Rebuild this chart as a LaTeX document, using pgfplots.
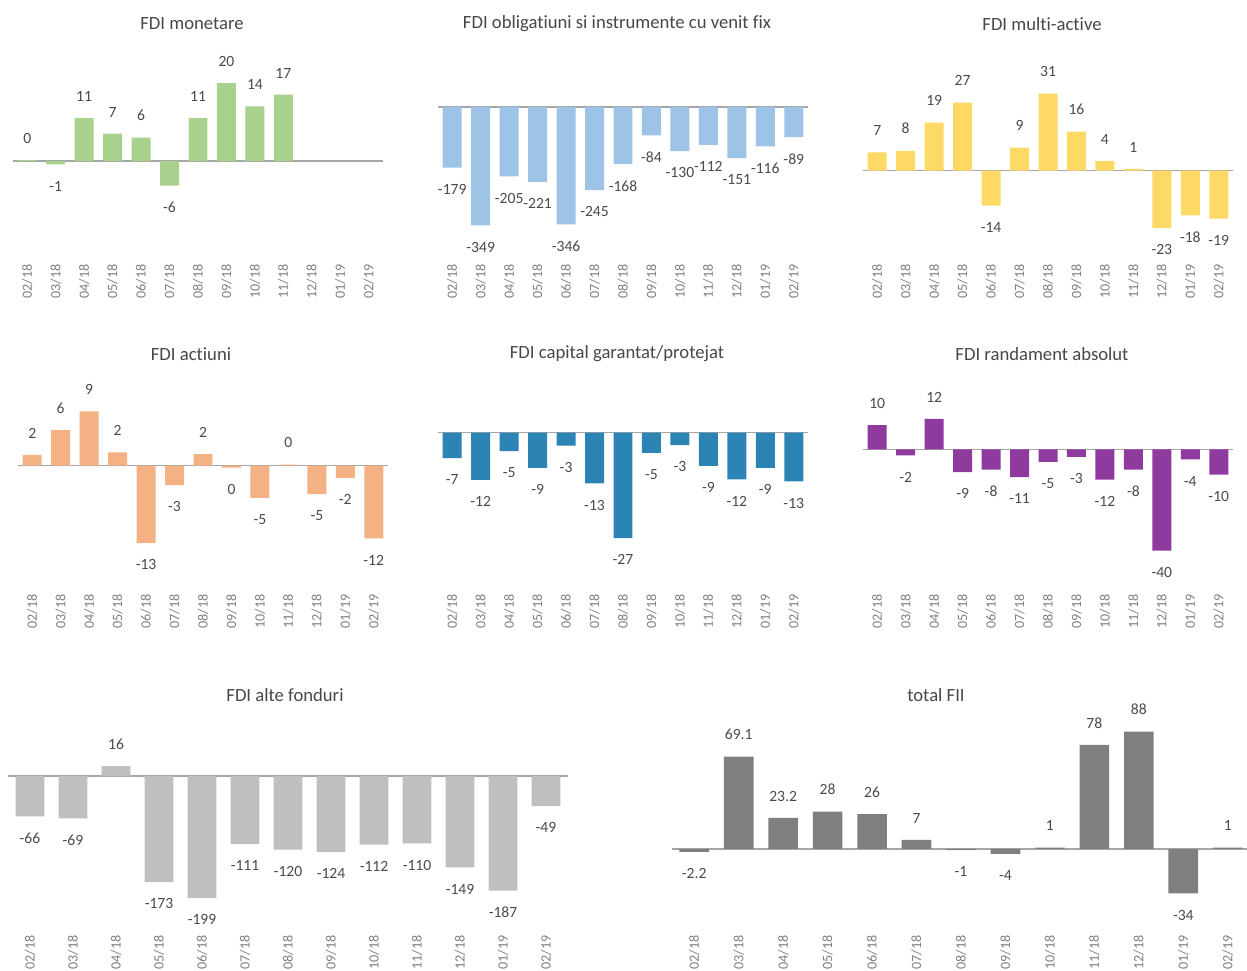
\documentclass[border=0pt]{standalone}
\usepackage{pgfplots}
\pgfplotsset{compat=1.18}
\usepackage{fontspec}
\setmainfont{Carlito}[Ligatures=CommonOff]
\definecolor{cgreen}{HTML}{A9D18E}
\definecolor{clblue}{HTML}{9DC3E6}
\definecolor{cyellow}{HTML}{FFD966}
\definecolor{corange}{HTML}{F4B183}
\definecolor{cblue}{HTML}{2B84B4}
\definecolor{cpurple}{HTML}{8F3A9E}
\definecolor{cgray}{HTML}{BFBFBF}
\definecolor{cdgray}{HTML}{7F7F7F}
\definecolor{axisgray}{HTML}{A6A6A6}
\definecolor{titlec}{HTML}{474747}
\definecolor{labelc}{HTML}{4A4A4A}
\definecolor{tickc}{HTML}{808080}
\pgfplotsset{
  panel/.style={
    scale only axis, anchor=south west,
    ybar, bar width=0.667,
    xmin=-0.5, xmax=12.5,
    xtick={0,...,12},
    xticklabels={02/18,03/18,04/18,05/18,06/18,07/18,08/18,09/18,10/18,11/18,12/18,01/19,02/19},
    xticklabel style={rotate=90, anchor=east, inner sep=1pt, font=\fontsize{10.6}{11}\selectfont, text=tickc},
    ytick=\empty,
    axis line style={draw=none},
    major tick length=0pt,
    extra y ticks={0}, extra y tick labels={},
    extra y tick style={grid=major, major grid style={draw=axisgray, line width=1pt}},
    nodes near coords, point meta=explicit symbolic,
    visualization depends on={value \thisrow{a} \as \anch},
    every node near coord/.append style={font=\fontsize{11.7}{12}\selectfont, text=labelc, inner ysep=12.3pt, inner xsep=1pt, anchor=\anch},
    clip=false,
  },
  row1/.style={height=159.75pt, width=277.5pt},
  row2/.style={height=159.75pt, width=277.5pt},
}
\tikzset{ttl/.style={font=\fontsize{14}{16}\selectfont, text=titlec}}
\begin{document}
\begin{tikzpicture}
\useasboundingbox (0,0) rectangle (935.25pt,-728.25pt);
% titles
\node[ttl] at (144pt,-18pt) {FDI monetare};
\node[ttl] at (462.75pt,-18pt) {FDI obligatiuni si instrumente cu venit fix};
\node[ttl] at (781.5pt,-18pt) {FDI multi-active};
\node[ttl] at (143.25pt,-265.5pt) {FDI actiuni};
\node[ttl] at (462.75pt,-265.5pt) {FDI capital garantat/protejat};
\node[ttl] at (781.5pt,-265.5pt) {FDI randament absolut};
\node[ttl] at (213.75pt,-521pt) {FDI alte fonduri};
\node[ttl] at (702pt,-521pt) {total FII};

% 1 monetare
\begin{axis}[panel, row1, at={(9.75pt,-197.25pt)}, ymin=-26.15, ymax=28.46]
\addplot[fill=cgreen, draw=none] table[x=x, y=y, meta=l] {
x y l a
0 0.2 0 south
1 -0.85 -1 north
2 11 11 south
3 7 7 south
4 6 6 south
5 -6.3 -6 north
6 11 11 south
7 20 20 south
8 14 14 south
9 17 17 south
};
\end{axis}

% 2 obligatiuni
\begin{axis}[panel, row1, at={(328.5pt,-197.25pt)}, ymin=-460.2, ymax=168.1]
\addplot[fill=clblue, draw=none] table[x=x, y=y, meta=l] {
x y l a
0 -179 -179 north
1 -349 -349 north
2 -205 -205 north
3 -221 -221 north
4 -346 -346 north
5 -245 -245 north
6 -168 -168 north
7 -84 -84 north
8 -130 -130 north
9 -112 -112 north
10 -151 -151 north
11 -116 -116 north
12 -89 -89 north
};
\end{axis}

% 3 multi-active
\begin{axis}[panel, row1, at={(647.25pt,-197.25pt)}, ymin=-37.1, ymax=48.5]
\addplot[fill=cyellow, draw=none] table[x=x, y=y, meta=l] {
x y l a
0 7.4 7 south
1 8 8 south
2 19.3 19 south
3 27.4 27 south
4 -14 -14 north
5 9.3 9 south
6 31 31 south
7 15.7 16 south
8 3.9 4 south
9 0.7 1 south
10 -23 -23 north
11 -18 -18 north
12 -19.3 -19 north
};
\end{axis}

% 4 actiuni
\begin{axis}[panel, row2, at={(13.5pt,-444.75pt)}, ymin=-21.04, ymax=14.17]
\addplot[fill=corange, draw=none] table[x=x, y=y, meta=l] {
x y l a
0 1.8 2 south
1 5.9 6 south
2 9 9 south
3 2.2 2 south
4 -12.8 -13 north
5 -3.2 -3 north
6 1.9 2 south
7 -0.3 0 north
8 -5.3 -5 north
9 0.2 0 south
10 -4.7 -5 north
11 -2 -2 north
12 -12 -12 north
};
\end{axis}

% 5 capital garantat
\begin{axis}[panel, row2, at={(328.5pt,-444.75pt)}, ymin=-41.1, ymax=13.5]
\addplot[fill=cblue, draw=none] table[x=x, y=y, meta=l] {
x y l a
0 -6.5 -7 north
1 -12.1 -12 north
2 -4.7 -5 north
3 -9 -9 north
4 -3.3 -3 north
5 -13 -13 north
6 -27 -27 north
7 -5.2 -5 north
8 -3.2 -3 north
9 -8.5 -9 north
10 -12 -12 north
11 -9 -9 north
12 -12.5 -13 north
};
\end{axis}

% 6 randament absolut
\begin{axis}[panel, row2, at={(647.25pt,-444.75pt)}, ymin=-56.8, ymax=27.4]
\addplot[fill=cpurple, draw=none] table[x=x, y=y, meta=l] {
x y l a
0 9.6 10 south
1 -2.4 -2 north
2 12 12 south
3 -9 -9 north
4 -8 -8 north
5 -11 -11 north
6 -5 -5 north
7 -3 -3 north
8 -12 -12 north
9 -8 -8 north
10 -40 -40 north
11 -4 -4 north
12 -10 -10 north
};
\end{axis}

% 7 alte fonduri
\begin{axis}[panel, height=164.25pt, width=419.25pt, at={(6.375pt,-700.5pt)}, ymin=-257.7, ymax=99.5]
\addplot[fill=cgray, draw=none] table[x=x, y=y, meta=l] {
x y l a
0 -66 -66 north
1 -69 -69 north
2 16 16 south
3 -173 -173 north
4 -199 -199 north
5 -111 -111 north
6 -120 -120 north
7 -124 -124 north
8 -112 -112 north
9 -110 -110 north
10 -149 -149 north
11 -187 -187 north
12 -49 -49 north
};
\end{axis}

% 8 total FII
\begin{axis}[panel, height=164.25pt, width=433.5pt, at={(504pt,-700.5pt)}, ymin=-63.9, ymax=100.4]
\addplot[fill=cdgray, draw=none] table[x=x, y=y, meta=l] {
x y l a
0 -2.2 -2.2 north
1 69.1 69.1 south
2 23.2 23.2 south
3 28 28 south
4 26 26 south
5 6.7 7 south
6 -1 -1 north
7 -3.7 -4 north
8 1 1 south
9 78 78 south
10 88 88 south
11 -33.5 -34 north
12 1 1 south
};
\end{axis}
\end{tikzpicture}
\end{document}
